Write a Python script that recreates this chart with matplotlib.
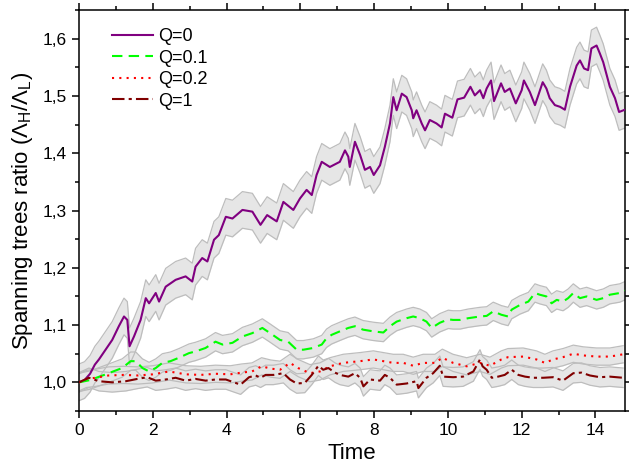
import numpy as np
import matplotlib
matplotlib.use("Agg")
import matplotlib.pyplot as plt
from matplotlib.ticker import MultipleLocator, FuncFormatter

plt.rcParams['font.family'] = ['Liberation Sans', 'DejaVu Sans']
plt.rcParams['mathtext.fontset'] = 'custom'
plt.rcParams['mathtext.rm'] = 'Liberation Sans'

# Q=0
t0 = [0, 0.15, 0.30, 0.43, 0.54, 0.90, 1.08, 1.22, 1.31, 1.37, 1.49, 1.67, 1.81, 1.90, 2.08,
      2.17, 2.35, 2.62, 2.89, 3.07, 3.16, 3.34, 3.48, 3.66, 3.79, 3.98, 4.16, 4.43, 4.70, 4.92,
      5.10, 5.36, 5.54, 5.81, 5.99, 6.17, 6.31, 6.44, 6.58, 6.80, 7.07, 7.21, 7.30, 7.34, 7.48,
      7.62, 7.75, 7.89, 7.99, 8.16, 8.29, 8.43, 8.52, 8.61, 8.75, 8.88, 9.02, 9.06, 9.15, 9.29,
      9.38, 9.51, 9.69, 9.83, 9.92, 10.12, 10.26, 10.44, 10.61, 10.73, 10.87, 10.96, 11.05, 11.17,
      11.25, 11.44, 11.54, 11.68, 11.84, 12.00, 12.06, 12.22, 12.36, 12.45, 12.57, 12.67, 12.76,
      12.90, 13.04, 13.17, 13.31, 13.49, 13.58, 13.69, 13.80, 13.89, 14.03, 14.12, 14.21, 14.39,
      14.53, 14.64, 14.80]
r0 = [1.000, 1.004, 1.015, 1.031, 1.040, 1.074, 1.098, 1.115, 1.109, 1.063, 1.080, 1.109, 1.147,
      1.138, 1.156, 1.141, 1.167, 1.179, 1.185, 1.176, 1.202, 1.217, 1.211, 1.249, 1.257, 1.289,
      1.286, 1.301, 1.298, 1.275, 1.292, 1.281, 1.315, 1.301, 1.321, 1.336, 1.327, 1.362, 1.385,
      1.376, 1.385, 1.405, 1.394, 1.376, 1.420, 1.397, 1.371, 1.376, 1.362, 1.379, 1.411, 1.452,
      1.498, 1.475, 1.504, 1.498, 1.475, 1.461, 1.475, 1.452, 1.440, 1.458, 1.452, 1.445, 1.469,
      1.462, 1.494, 1.497, 1.516, 1.501, 1.510, 1.496, 1.513, 1.527, 1.491, 1.522, 1.507, 1.513,
      1.487, 1.510, 1.527, 1.507, 1.484, 1.501, 1.524, 1.513, 1.496, 1.484, 1.481, 1.476, 1.516,
      1.553, 1.562, 1.548, 1.545, 1.583, 1.588, 1.574, 1.559, 1.516, 1.496, 1.472, 1.476]

# Q=0.1
t1 = [0, 0.30, 0.68, 1.17, 1.40, 1.54, 1.72, 1.90, 2.08, 2.26, 2.48, 2.71, 2.98, 3.16, 3.43,
      3.70, 3.89, 4.16, 4.43, 4.70, 4.97, 5.18, 5.45, 5.67, 5.90, 6.08, 6.35, 6.58, 6.71, 6.85,
      7.07, 7.30, 7.48, 7.70, 7.98, 8.25, 8.43, 8.61, 8.88, 9.06, 9.24, 9.42, 9.56, 9.78, 10.01,
      10.14, 10.33, 10.55, 10.87, 11.05, 11.23, 11.45, 11.63, 11.73, 11.95, 12.18, 12.36, 12.49,
      12.67, 12.81, 12.95, 13.12, 13.26, 13.40, 13.58, 13.76, 14.03, 14.21, 14.39, 14.66, 14.80]
r1 = [1.000, 1.004, 1.013, 1.025, 1.037, 1.037, 1.025, 1.019, 1.025, 1.034, 1.037, 1.043, 1.051,
      1.054, 1.060, 1.071, 1.066, 1.069, 1.080, 1.086, 1.095, 1.086, 1.074, 1.071, 1.057, 1.057,
      1.060, 1.066, 1.077, 1.083, 1.089, 1.095, 1.098, 1.092, 1.089, 1.087, 1.098, 1.106, 1.112,
      1.115, 1.112, 1.106, 1.095, 1.104, 1.110, 1.109, 1.109, 1.112, 1.115, 1.116, 1.124, 1.118,
      1.115, 1.127, 1.135, 1.141, 1.156, 1.153, 1.150, 1.138, 1.144, 1.141, 1.147, 1.156, 1.147,
      1.150, 1.144, 1.147, 1.153, 1.156, 1.160]

# Q=0.2
t2 = [0, 0.20, 0.45, 0.80, 1.20, 1.60, 2.00, 2.44, 2.90, 3.30, 3.70, 4.10, 4.40, 4.69, 4.95,
      5.20, 5.45, 5.72, 5.94, 6.26, 6.53, 6.80, 7.16, 7.62, 7.98, 8.25, 8.52, 8.79, 9.06, 9.33,
      9.65, 9.85, 10.14, 10.51, 10.87, 11.14, 11.45, 11.63, 12.04, 12.40, 12.63, 12.85, 13.12,
      13.40, 13.67, 14.03, 14.39, 14.75]
r2 = [1.000, 1.006, 1.008, 1.012, 1.013, 1.012, 1.014, 1.019, 1.014, 1.013, 1.015, 1.014, 1.017,
      1.019, 1.028, 1.024, 1.022, 1.034, 1.025, 1.016, 1.019, 1.028, 1.034, 1.037, 1.040, 1.037,
      1.034, 1.034, 1.029, 1.034, 1.034, 1.043, 1.034, 1.028, 1.034, 1.029, 1.040, 1.044, 1.045,
      1.040, 1.034, 1.040, 1.044, 1.050, 1.047, 1.045, 1.045, 1.049]

# Q=1
t3 = [0, 0.27, 0.54, 0.90, 1.27, 1.58, 1.85, 2.08, 2.35, 2.62, 2.89, 3.16, 3.43, 3.70, 3.98,
      4.20, 4.38, 4.61, 4.79, 4.92, 5.06, 5.27, 5.54, 5.72, 5.90, 6.12, 6.31, 6.49, 6.62, 6.76,
      6.94, 7.07, 7.30, 7.48, 7.62, 7.71, 7.89, 8.16, 8.29, 8.43, 8.61, 8.88, 9.15, 9.20, 9.42,
      9.60, 9.78, 9.87, 10.14, 10.41, 10.69, 10.87, 10.94, 11.05, 11.19, 11.36, 11.54, 11.73,
      11.91, 12.09, 12.31, 12.58, 12.85, 13.12, 13.40, 13.62, 13.85, 14.12, 14.39, 14.75]
r3 = [1.000, 1.008, 1.002, 1.000, 1.002, 1.006, 1.009, 1.003, 1.005, 1.008, 1.003, 1.006, 1.003,
      1.005, 1.005, 1.000, 0.996, 1.009, 1.012, 1.008, 1.013, 1.013, 1.016, 1.005, 0.998, 0.999,
      1.013, 1.029, 1.022, 1.025, 1.017, 1.013, 1.010, 1.016, 1.008, 0.993, 1.005, 1.003, 1.013,
      1.008, 0.996, 0.998, 1.002, 0.990, 1.008, 1.016, 1.029, 1.010, 1.009, 1.010, 1.019, 1.040,
      1.028, 1.022, 1.008, 1.010, 1.013, 1.022, 1.013, 1.010, 1.008, 1.008, 1.009, 1.003, 1.016,
      1.017, 1.012, 1.009, 1.010, 1.008]

# half width of the grey spread around each curve
spread = [0.032, 0.016, 0.015, 0.017]
labels = ['Q=0', 'Q=0.1', 'Q=0.2', 'Q=1']

series = [(t0, r0), (t1, r1), (t2, r2), (t3, r3)]
colors = ['#800080', '#00ff00', '#ff0000', '#800000']
styles = ['-', (0, (5, 3)), (0, (1, 2.5)), (0, (6, 2, 1.5, 2))]

fig = plt.figure(figsize=(6.29, 4.68), dpi=100)
ax = fig.add_axes([0.1256, 0.1218, 0.868, 0.8568])

for (t, r), s in zip(series, spread):
    t = np.array(t)
    r = np.array(r)
    ax.fill_between(t, r - s, r + s, color='#e6e6e6', lw=0, zorder=1)
    ax.plot(t, r - s, color='#bdbdbd', lw=0.9, zorder=2)
    ax.plot(t, r + s, color='#bdbdbd', lw=0.9, zorder=2)

for (t, r), c, ls, lab in zip(series, colors, styles, labels):
    ax.plot(t, r, color=c, ls=ls, lw=1.5, label=lab, zorder=3)

ax.set_xlim(0, 14.8)
ax.set_ylim(0.95, 1.65)
ax.xaxis.set_major_locator(MultipleLocator(2))
ax.xaxis.set_minor_locator(MultipleLocator(1))
ax.yaxis.set_major_locator(MultipleLocator(0.1))
ax.yaxis.set_minor_locator(MultipleLocator(0.05))
ax.yaxis.set_major_formatter(FuncFormatter(lambda v, p: ('%.1f' % v).replace('.', ',')))

ax.tick_params(which='both', direction='out', top=True, right=True, labelsize=12.5, width=1.1)
ax.tick_params(which='major', length=5, pad=4)
ax.tick_params(which='minor', length=3)
for sp in ax.spines.values():
    sp.set_linewidth(1.1)

ax.set_xlabel('Time', fontsize=16, labelpad=3)
ax.set_ylabel('Spanning trees ratio (Λ$_\\mathregular{H}$/Λ$_\\mathregular{L}$)', fontsize=16, labelpad=5)

ax.legend(loc='upper left', bbox_to_anchor=(0.03, 0.995), frameon=False, fontsize=13,
          handlelength=2.3, labelspacing=0.25, handletextpad=0.3)

fig.savefig('out.png', dpi=100)
